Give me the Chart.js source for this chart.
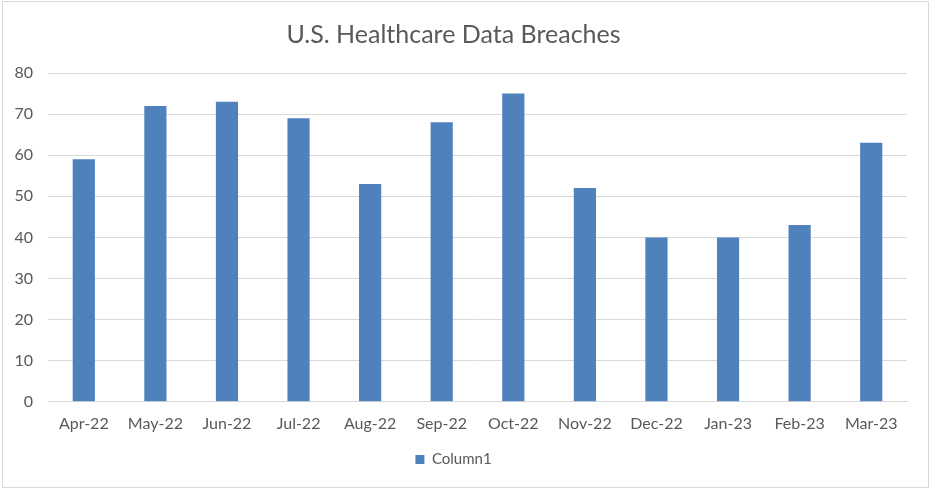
<!DOCTYPE html>
<html>
<head>
<meta charset="utf-8">
<script src="https://cdn.jsdelivr.net/npm/chart.js@4"></script>
<style>
  body { margin: 0; background: #fff; }
  #wrap { position: absolute; left: 2px; top: 1px; width: 925px; height: 485px; border: 1px solid #d9d9d9; }
  canvas { position: absolute; left: 0; top: 0; }
</style>
</head>
<body>
<div id="wrap"></div>
<canvas id="myChart" width="930" height="489"></canvas>
<script>
// data
var months = ["Apr-22", "May-22", "Jun-22", "Jul-22", "Aug-22", "Sep-22", "Oct-22", "Nov-22", "Dec-22", "Jan-23", "Feb-23", "Mar-23"];
var breaches = [59, 72, 73, 69, 53, 68, 75, 52, 40, 40, 43, 63];
var yTicks = [0, 10, 20, 30, 40, 50, 60, 70, 80];

var gray = '#595959';

new Chart(document.getElementById('myChart'), {
  type: 'bar',
  data: {
    labels: months,
    datasets: [{
      label: 'Column1',
      data: breaches,
      backgroundColor: '#4f81bd',
      borderWidth: 0,
      barPercentage: 0.31,
      categoryPercentage: 1
    }]
  },
  options: {
    responsive: false,
    animation: false,
    layout: { padding: { left: 0, right: 23, top: 0, bottom: 12 } },
    plugins: {
      title: {
        display: true,
        text: 'U.S. Healthcare Data Breaches',
        color: gray,
        font: { family: 'Lato', size: 25, weight: 'normal' },
        padding: { top: 20, bottom: 23 }
      },
      legend: {
        position: 'bottom',
        labels: {
          color: gray,
          font: { family: 'Lato', size: 15 },
          boxWidth: 9,
          boxHeight: 9,
          padding: 15
        }
      },
      tooltip: { enabled: false }
    },
    scales: {
      x: {
        grid: { display: false },
        border: { color: '#d9d9d9' },
        ticks: { color: gray, font: { family: 'Lato', size: 16 }, padding: 4, maxRotation: 0 }
      },
      y: {
        min: 0,
        max: 80,
        afterBuildTicks: function(scale) { scale.ticks = yTicks.map(function(v) { return { value: v }; }); },
        afterFit: function(scale) { scale.width = 48; },
        grid: { color: '#d9d9d9', drawTicks: false },
        border: { display: false },
        ticks: { color: gray, font: { family: 'Lato', size: 16 }, padding: 15 }
      }
    }
  }
});
</script>
</body>
</html>
